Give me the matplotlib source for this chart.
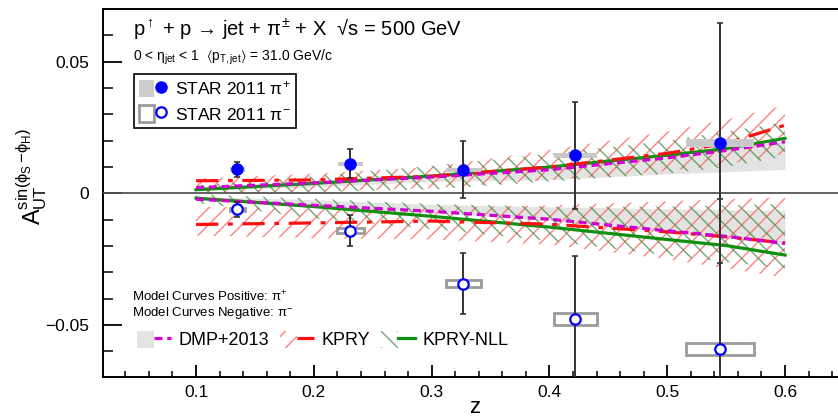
"""STAR 2011 Collins asymmetry vs z for pi+/pi- in jets, with model curves."""

import matplotlib

matplotlib.use("Agg")
import matplotlib.pyplot as plt
from matplotlib.legend_handler import HandlerTuple
from matplotlib.lines import Line2D
from matplotlib.patches import Patch, Rectangle

plt.rcParams["font.family"] = ["Liberation Sans", "DejaVu Sans"]
plt.rcParams["mathtext.fontset"] = "custom"
plt.rcParams["mathtext.rm"] = "Liberation Sans"
plt.rcParams["mathtext.it"] = "Liberation Sans"
plt.rcParams["mathtext.bf"] = "Liberation Sans:bold"
plt.rcParams["mathtext.fallback"] = "stixsans"
plt.rcParams["hatch.linewidth"] = 1.0

# --- data points ---
z_pts = [0.135, 0.231, 0.327, 0.422, 0.545]
a_pos = [0.0091, 0.0113, 0.0090, 0.0144, 0.0192]
e_pos = [0.0027, 0.0055, 0.0108, 0.0204, 0.0455]
sysz_pos = [0.0064, 0.0108, 0.0145, 0.0185, 0.029]
sysa_pos = [0.0008, 0.0008, 0.0008, 0.0008, 0.0016]

a_neg = [-0.0061, -0.0141, -0.0342, -0.0478, -0.0590]
e_neg = [0.0028, 0.0058, 0.0116, 0.0241, 0.0568]
sysz_neg = [0.0064, 0.0112, 0.0145, 0.0185, 0.029]
sysa_neg = [0.0006, 0.0009, 0.0014, 0.0023, 0.0023]

# --- model curves ---
model_z = [0.1, 0.2, 0.3, 0.4, 0.5, 0.55, 0.6]

dmp_pos = [0.0022, 0.0040, 0.0062, 0.0090, 0.0135, 0.0163, 0.0196]
dmp_pos_lo = [0.0012, 0.0025, 0.0045, 0.0052, 0.0074, 0.0082, 0.0091]
dmp_pos_hi = [0.0025, 0.0044, 0.0067, 0.0095, 0.0140, 0.0168, 0.0201]
dmp_neg = [-0.0022, -0.0045, -0.0068, -0.0098, -0.0142, -0.0163, -0.0190]
dmp_neg_lo = [-0.0025, -0.0049, -0.0073, -0.0103, -0.0147, -0.0168, -0.0195]
dmp_neg_hi = [-0.0012, -0.0024, -0.0042, -0.0051, -0.0058, -0.0062, -0.0064]

kpry_pos = [0.0048, 0.0051, 0.0065, 0.0100, 0.0152, 0.0190, 0.0259]
kpry_pos_lo = [0.0003, 0.0006, 0.0020, 0.0050, 0.0085, 0.0110, 0.0150]
kpry_pos_hi = [0.0056, 0.0075, 0.0100, 0.0165, 0.0235, 0.0280, 0.0335]
kpry_neg = [-0.0118, -0.0112, -0.0105, -0.0117, -0.0146, -0.0165, -0.0188]
kpry_neg_lo = [-0.0160, -0.0170, -0.0175, -0.0195, -0.0250, -0.0285, -0.0320]
kpry_neg_hi = [-0.0050, -0.0058, -0.0055, -0.0045, -0.0030, -0.0022, -0.0014]

nll_pos = [0.0014, 0.0038, 0.0066, 0.0100, 0.0145, 0.0170, 0.0209]
nll_pos_lo = [-0.0003, 0.0005, 0.0015, 0.0045, 0.0075, 0.0100, 0.0140]
nll_pos_hi = [0.0030, 0.0065, 0.0105, 0.0150, 0.0200, 0.0235, 0.0270]
nll_neg = [-0.0018, -0.0050, -0.0087, -0.0128, -0.0175, -0.0198, -0.0234]
nll_neg_lo = [-0.0035, -0.0095, -0.0135, -0.0180, -0.0235, -0.0260, -0.0285]
nll_neg_hi = [-0.0003, -0.0020, -0.0040, -0.0050, -0.0050, -0.0045, -0.0040]

# styles
GRAY_BAND = "#e3e3e3"
MAGENTA = "#d000d0"
RED = "#ff1010"
RED_HATCH = (1.0, 0.35, 0.35, 0.75)
GREEN = "#109010"
GREEN_HATCH = (0.25, 0.55, 0.25, 0.75)
BLUE = "#0000ff"
KPRY_DASH = (7, 3, 1.5, 3)
DMP_DASH = (2.5, 1.5)

fig = plt.figure(figsize=(8.38, 4.18), dpi=100)
ax = fig.add_axes([0.1229, 0.098, 0.8771, 0.8805])
ax.set_xlim(0.021, 0.645)
ax.set_ylim(-0.0697, 0.0700)

# bands
ax.fill_between(model_z, dmp_pos_lo, dmp_pos_hi, color=GRAY_BAND, lw=0, zorder=1)
ax.fill_between(model_z, dmp_neg_lo, dmp_neg_hi, color=GRAY_BAND, lw=0, zorder=1)
for lo, hi in [(kpry_pos_lo, kpry_pos_hi), (kpry_neg_lo, kpry_neg_hi)]:
    ax.fill_between(model_z, lo, hi, facecolor="none", edgecolor=RED_HATCH,
                    hatch="//", lw=0, zorder=2)
for lo, hi in [(nll_pos_lo, nll_pos_hi), (nll_neg_lo, nll_neg_hi)]:
    ax.fill_between(model_z, lo, hi, facecolor="none", edgecolor=GREEN_HATCH,
                    hatch="\\\\", lw=0, zorder=2)

ax.axhline(0, color="#555555", lw=1.3, zorder=3)

# curves
for y in (nll_pos, nll_neg):
    ax.plot(model_z, y, color=GREEN, lw=2.3, zorder=4)
for y in (kpry_pos, kpry_neg):
    ax.plot(model_z, y, color=RED, lw=2.3, dashes=KPRY_DASH, zorder=4)
for y in (dmp_pos, dmp_neg):
    ax.plot(model_z, y, color=MAGENTA, lw=2.3, dashes=DMP_DASH, zorder=4)

# systematic boxes
for z, a, dz, da in zip(z_pts, a_pos, sysz_pos, sysa_pos):
    ax.add_patch(Rectangle((z - dz, a - da), 2 * dz, 2 * da, facecolor="#c8c8c8",
                           edgecolor="none", zorder=5))
for z, a, dz, da in zip(z_pts, a_neg, sysz_neg, sysa_neg):
    ax.add_patch(Rectangle((z - dz, a - da), 2 * dz, 2 * da, facecolor="none",
                           edgecolor="#9a9a9a", lw=2, zorder=5))

# statistical errors + markers
ax.errorbar(z_pts, a_pos, yerr=e_pos, fmt="none", ecolor="#333333", elinewidth=1.4,
            capsize=2.5, capthick=1.2, zorder=6)
ax.errorbar(z_pts, a_neg, yerr=e_neg, fmt="none", ecolor="#333333", elinewidth=1.4,
            capsize=2.5, capthick=1.2, zorder=6)
ax.plot(z_pts, a_pos, "o", color=BLUE, ms=8, zorder=7)
ax.plot(z_pts, a_neg, "o", mfc="white", mec=BLUE, mew=1.6, ms=7.5, zorder=7)

# axes styling
ax.spines["right"].set_visible(False)
for s in ("left", "bottom", "top"):
    ax.spines[s].set_linewidth(1.4)
ax.set_xticks([0.1, 0.2, 0.3, 0.4, 0.5, 0.6])
ax.set_xticks([0.04, 0.06, 0.08, 0.12, 0.14, 0.16, 0.18, 0.22, 0.24, 0.26, 0.28,
               0.32, 0.34, 0.36, 0.38, 0.42, 0.44, 0.46, 0.48, 0.52, 0.54, 0.56,
               0.58, 0.62, 0.64], minor=True)
ax.set_yticks([-0.05, 0, 0.05])
ax.set_yticklabels(["\u22120.05", "0", "0.05"])
ax.set_yticks([-0.06, -0.04, -0.03, -0.02, -0.01, 0.01, 0.02, 0.03, 0.04, 0.06],
              minor=True)
ax.tick_params(axis="both", which="both", direction="in", labelsize=12.5,
               color="black")
ax.tick_params(axis="y", which="major", length=14, width=1.3, pad=10)
ax.tick_params(axis="y", which="minor", length=7.5, width=1.1)
ax.tick_params(axis="x", which="major", length=8.5, width=1.3, pad=6)
ax.tick_params(axis="x", which="minor", length=4.5, width=1.1)

# labels
fig.text(475 / 838, 0.0, "z", fontsize=16, ha="center", va="bottom")
fig.text(32 / 838, 1 - 177 / 418,
         r"$\mathrm{A}_{\mathrm{UT}}^{\sin(\phi_{\mathrm{S}}\,\mathrm{-}\phi_{\mathrm{H}})}$",
         fontsize=17, rotation=90, ha="center", va="center")

ax.text(0.041, 0.929,
        "p$^{\\uparrow}$ + p \u2192 jet + $\\pi^{\\pm}$ + X  \u221as = 500 GeV",
        transform=ax.transAxes, fontsize=14.5, va="baseline")
ax.text(0.041, 0.861,
        r"0 < $\eta_{\mathrm{jet}}$ < 1  $\langle$p$_{\mathrm{T,jet}}$$\rangle$ = 31.0 GeV/c",
        transform=ax.transAxes, fontsize=10, va="baseline")

data_handles = [
    (Patch(facecolor="#cccccc", edgecolor="none"),
     Line2D([], [], ls="none", marker="o", color=BLUE, ms=8)),
    (Patch(facecolor="white", edgecolor="#9a9a9a", lw=2),
     Line2D([], [], ls="none", marker="o", mfc="white", mec=BLUE, mew=1.6, ms=7.5)),
]
leg1 = ax.legend(data_handles, [r"STAR 2011 $\pi^{+}$", r"STAR 2011 $\pi^{-}$"],
                 handler_map={tuple: HandlerTuple(ndivide=None, pad=0)},
                 loc="upper left", bbox_to_anchor=(0.042, 0.823), fontsize=12.5,
                 frameon=True, fancybox=False, edgecolor="black", framealpha=1,
                 handlelength=1.7, handleheight=1.15, labelspacing=0.45,
                 borderpad=0.3, handletextpad=0.35, borderaxespad=0)
leg1.get_frame().set_linewidth(1.2)
ax.add_artist(leg1)

ax.text(0.040, 0.218, r"Model Curves Positive: $\pi^{+}$", transform=ax.transAxes,
        fontsize=9.5, va="center")
ax.text(0.040, 0.174, r"Model Curves Negative: $\pi^{-}$", transform=ax.transAxes,
        fontsize=9.5, va="center")

model_handles = [
    (Patch(facecolor=GRAY_BAND, edgecolor="none"),
     Line2D([], [], color=MAGENTA, lw=2.3, dashes=DMP_DASH)),
    (Patch(facecolor="none", edgecolor=RED_HATCH, hatch="//", lw=0),
     Line2D([], [], color=RED, lw=2.3, dashes=KPRY_DASH)),
    (Patch(facecolor="none", edgecolor=GREEN_HATCH, hatch="\\\\", lw=0),
     Line2D([], [], color=GREEN, lw=2.3)),
]
ax.legend(model_handles, ["DMP+2013", "KPRY", "KPRY-NLL"],
          handler_map={tuple: HandlerTuple(ndivide=None, pad=0)},
          loc="center left", bbox_to_anchor=(0.046, 0.1005), ncol=3, fontsize=13,
          frameon=False, handlelength=1.9, handleheight=1.1, handletextpad=0.4,
          columnspacing=0.6, borderpad=0, borderaxespad=0)

fig.savefig("out.png", dpi=100)
